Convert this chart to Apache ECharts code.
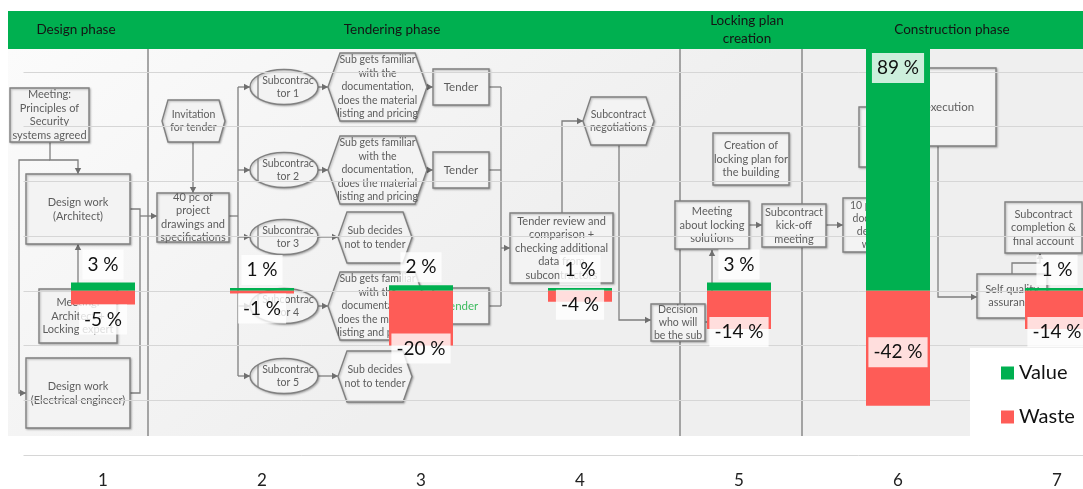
<!DOCTYPE html>
<html>
<head>
<meta charset="utf-8">
<script src="https://cdn.jsdelivr.net/npm/echarts@6/dist/echarts.min.js"></script>
<style>
html,body{margin:0;padding:0;background:#fff;overflow:hidden;width:1083px;height:489px;}
#chart{width:1140px;height:489px;}
</style>
</head>
<body>
<div id="chart"></div>
<script>
// ---- data ----
const categories = ['1', '2', '3', '4', '5', '6', '7'];
const valueShare = [3, 1, 2, 1, 3, 89, 1];
const wasteShare = [-5, -1, -20, -4, -14, -42, -14];
const seriesNames = ['Value', 'Waste'];
const phaseNames = ['Design phase', 'Tendering phase', 'Locking plan\ncreation', 'Construction phase'];

// ---- background process diagram (decoration) ----
const G = [];
const LINE = '#7f7f7f';
function txt(cx, cy, t, extra) {
  G.push({type: 'text', z: -3, silent: true, style: Object.assign({
    text: t, x: cx, y: cy, align: 'center', verticalAlign: 'middle',
    fontSize: 10.5, fontFamily: 'Lato', lineHeight: 13.5, fill: '#5d5d5d'
  }, extra || {})});
}
const boxStyle = {fill: '#f3f3f3', stroke: '#808080', lineWidth: 1.4,
  shadowBlur: 2, shadowOffsetX: 1, shadowOffsetY: 1, shadowColor: 'rgba(0,0,0,0.25)'};
function box(x, y, w, h, t, extra) {
  G.push({type: 'rect', z: -4, silent: true, shape: {x: x, y: y, width: w, height: h}, style: boxStyle});
  if (t) txt(x + w / 2, y + h / 2, t, extra);
}
function hex(x, y, w, h, i, t) {
  const cy = y + h / 2;
  G.push({type: 'polygon', z: -4, silent: true, shape: {points: [[x, cy], [x + i, y], [x + w - i, y], [x + w, cy], [x + w - i, y + h], [x + i, y + h]]}, style: boxStyle});
  txt(x + w / 2, cy, t);
}
function ell(cx, cy, rx, ry, t) {
  G.push({type: 'ellipse', z: -4, silent: true, shape: {cx: cx, cy: cy, rx: rx, ry: ry}, style: boxStyle});
  const lx = cx - rx + 8;
  const dy = ry * Math.sqrt(1 - Math.pow((lx - cx) / rx, 2));
  G.push({type: 'line', z: -3, silent: true, shape: {x1: lx, y1: cy - dy, x2: lx, y2: cy + dy}, style: {stroke: '#808080', lineWidth: 1.3}});
  txt(cx + 4, cy, t);
}
function link(pts, arrow) {
  G.push({type: 'polyline', z: -4.5, silent: true, shape: {points: pts}, style: {stroke: LINE, lineWidth: 1.3, fill: null}});
  if (arrow) {
    const a = pts[pts.length - 1], b = pts[pts.length - 2];
    const ang = Math.atan2(a[1] - b[1], a[0] - b[0]);
    const L = 6, W = 3.2;
    const bx = a[0] - L * Math.cos(ang), by = a[1] - L * Math.sin(ang);
    const nx = -Math.sin(ang) * W, ny = Math.cos(ang) * W;
    G.push({type: 'polygon', z: -4.5, silent: true, shape: {points: [a, [bx + nx, by + ny], [bx - nx, by - ny]]}, style: {fill: '#6f6f6f'}});
  }
}

// canvas of the diagram
G.push({type: 'rect', z: -6, silent: true, shape: {x: 8, y: 49, width: 1132, height: 387},
  style: {fill: {type: 'linear', x: 0, y: 0, x2: 0.3, y2: 1, colorStops: [{offset: 0, color: '#fbfbfb'}, {offset: 1, color: '#efefef'}]}}});
[148, 680, 802].forEach(function (x) {
  G.push({type: 'line', z: -5, silent: true, shape: {x1: x, y1: 49, x2: x, y2: 436}, style: {stroke: '#8a8a8a', lineWidth: 1.5}});
});

// design phase
link([[50, 142], [50, 160], [78, 160], [78, 174]], true);
link([[50, 160], [19, 160], [19, 393], [26, 393]], true);
link([[78, 289], [78, 244]], true);
link([[130, 209], [140, 209], [140, 393], [130, 393]], false);
link([[140, 216], [157, 216]], true);
box(10, 88, 79, 54, 'Meeting:\nPrinciples of\nSecurity\nsystems agreed', {fontSize: 11, lineHeight: 13.5});
box(26, 174, 104, 70, 'Design work\n(Architect)', {fontSize: 11, lineHeight: 14});
box(39, 289, 78, 54, 'Meeting:\nArchitect +\nLocking expert', {fontSize: 11});
box(26, 358, 104, 70, 'Design work\n(Electrical engineer)', {fontSize: 11, lineHeight: 14});

// tendering phase
link([[193, 142], [193, 193]], true);
link([[229, 216], [238, 216]], false);
link([[238, 87], [238, 376]], false);
const subY = [87, 170, 237, 306, 376];
subY.forEach(function (y, k) {
  link([[238, y], [250, y]], true);
  ell(284, y, 34, 17.5, 'Subcontrac\ntor ' + (k + 1));
  if (k === 2 || k === 4) {
    link([[318, y], [338, y]], true);
    hex(338, y - 25, 74, 51, 9, 'Sub decides\nnot to tender');
  } else {
    link([[318, y], [328, y]], true);
    link([[427, y], [433, y]], true);
    hex(328, y - 34, 99, 68, 12, 'Sub gets familiar\nwith the\ndocumentation,\ndoes the material\nlisting and pricing');
    box(433, y - 18, 56, 36, 'Tender', k === 3 ? {fill: '#3dbb5f', fontSize: 11.5} : {fontSize: 11.5});
    link([[489, y], [501, y]], false);
  }
});
hex(162, 100, 63, 42, 6, 'Invitation\nfor tender');
box(157, 193, 72, 49, '40 pc of\nproject\ndrawings and\nspecifications', {fontSize: 11});
link([[501, 87], [501, 306]], false);
link([[501, 248], [510, 248]], true);
box(510, 213, 103, 70, 'Tender review and\ncomparison +\nchecking additional\ndata from\nsubcontractors', {fontSize: 11});
link([[562, 213], [562, 121], [583, 121]], true);
hex(583, 97, 71, 48, 8, 'Subcontract\nnegotiations');
link([[619, 145], [619, 320], [651, 320]], true);
box(651, 304, 54, 37, 'Decision\nwho will\nbe the sub', {fontSize: 10.5, lineHeight: 13});

// locking plan creation
box(713, 133, 76, 52, 'Creation of\nlocking plan for\nthe building', {fontSize: 11});
link([[705, 322], [712, 322], [712, 250]], true);
box(675, 201, 74, 48, 'Meeting\nabout locking\nsolutions', {fontSize: 11});
link([[749, 225], [762, 225]], true);
box(762, 204, 64, 43, 'Subcontract\nkick-off\nmeeting', {fontSize: 11});
link([[826, 225], [843, 225]], true);
box(843, 198, 70, 54, '10 pieces of\ndocuments\ndelivered\nweekly', {fontSize: 10.5, lineHeight: 13});

// construction phase
box(859, 107, 50, 60, '');
box(872, 68, 124, 78, 'Work execution', {fontSize: 11.5});
link([[938, 146], [938, 297], [977, 297]], true);
link([[1012, 274], [1012, 263], [1040, 263], [1040, 253]], true);
box(977, 274, 70, 44, 'Self quality\nassurance', {fontSize: 11});
box(1005, 202, 77, 51, 'Subcontract\ncompletion &\nfinal account', {fontSize: 11});

// legend panel (covers the grid lines, as in the reference)
G.push({type: 'rect', z: 1, silent: true, shape: {x: 970, y: 348, width: 170, height: 88}, style: {fill: '#ffffff'}});

// phase header
G.push({type: 'rect', z: 20, silent: true, shape: {x: 8, y: 11, width: 1132, height: 38}, style: {fill: '#00b050'}});
const phaseX = [76, 392, 747, 952];
phaseNames.forEach(function (p, i) {
  G.push({type: 'text', z: 21, silent: true, style: {text: p, x: phaseX[i], y: 30, align: 'center', verticalAlign: 'middle',
    fontSize: 13.5, fontFamily: 'Lato', lineHeight: 18, fill: '#141414'}});
});

// ---- chart ----
const labelBase = {
  show: true, formatter: function (p) { return p.value + ' %'; },
  fontSize: 19, fontFamily: 'Lato', color: '#111', lineHeight: 24,
  backgroundColor: 'rgba(255,255,255,0.8)', padding: [3, 5, 3, 5]
};
const valueData = valueShare.map(function (v, i) {
  const lab = i === 5 ? {position: 'insideTop', distance: 6} : {position: 'top', distance: 3};
  return {value: v, label: lab};
});
const wasteData = wasteShare.map(function (v, i) {
  let lab;
  if (i === 0 || i === 1) lab = {position: 'bottom', distance: 0};
  else if (i === 5) lab = {position: 'inside', offset: [0, 4]};
  else lab = {position: ['50%', '100%'], align: 'center', verticalAlign: 'middle', offset: [0, 3]};
  return {value: v, label: lab};
});

const chart = echarts.init(document.getElementById('chart'), null, {renderer: 'canvas'});
chart.setOption({
  animation: false,
  backgroundColor: '#ffffff',
  graphic: {elements: G},
  grid: {left: 23.5, top: 17, width: 1113, height: 438, containLabel: false},
  legend: {
    data: seriesNames, orient: 'vertical', left: 996, top: 358, z: 5,
    icon: 'rect', itemWidth: 13, itemHeight: 13, itemGap: 24,
    textStyle: {fontSize: 20, fontFamily: 'Lato', color: '#111'}
  },
  xAxis: {
    type: 'category', data: categories,
    axisLine: {show: false, onZero: false}, axisTick: {show: false},
    axisLabel: {fontSize: 17, fontFamily: 'Lato', color: '#222', margin: 17}
  },
  yAxis: {
    type: 'value', min: -60, max: 100, interval: 20,
    axisLabel: {show: false}, axisLine: {show: false}, axisTick: {show: false},
    splitLine: {lineStyle: {color: '#d6d6d6', width: 1}}
  },
  series: [
    {name: seriesNames[0], type: 'bar', data: valueData, barWidth: 64, barGap: '-100%',
      itemStyle: {color: '#00b050'}, label: labelBase, z: 3},
    {name: seriesNames[1], type: 'bar', data: wasteData, barWidth: 64, barGap: '-100%',
      itemStyle: {color: '#fe5c57'}, label: labelBase, z: 3}
  ]
});
</script>
</body>
</html>
